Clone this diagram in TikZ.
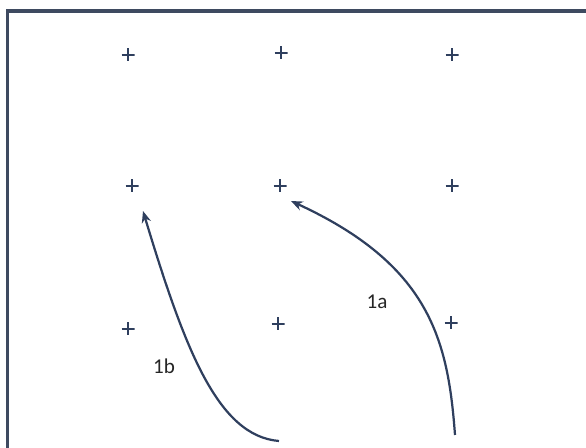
\documentclass[tikz,border=0pt]{standalone}
\usepackage{fontspec}
\setmainfont{Carlito}
\usetikzlibrary{arrows.meta}
\definecolor{framecol}{HTML}{3E4A60}
\definecolor{inkcol}{HTML}{2F3F5E}
\begin{document}
\begin{tikzpicture}[
    x=0.3mm, y=-0.3mm,
    plusmark/.style={inner sep=0pt, minimum size=13*0.3mm,
      path picture={\draw[inkcol, line width=2.4pt]
        (path picture bounding box.north) -- (path picture bounding box.south)
        (path picture bounding box.west) -- (path picture bounding box.east);}},
    move/.style={inkcol, line width=1.9pt, -{Stealth[length=10pt, width=8pt]}},
    lbl/.style={font=\fontsize{18}{20}\selectfont, text=black!85},
  ]
    \useasboundingbox (0,0) rectangle (586,448);
    % frame (open at right and bottom)
    \draw[framecol, line width=2.6pt] (7.5,450) -- (7.5,11) -- (588,11);
    % 3x3 grid of points
    \foreach \n/\px/\py in {
      11/128/55, 12/281/53, 13/452/55,
      21/132/186, 22/280/186, 23/452/186,
      31/128/329, 32/278/324, 33/451/323}
    { \node[plusmark] (p\n) at (\px,\py) {}; }
    % moves
    \coordinate (s1b) at (279,441);
    \coordinate (e1b) at (143,211);
    \coordinate (s1a) at (455,435);
    \coordinate (e1a) at (291,201);
    \draw[move] (s1b) .. controls (218,436) and (185,350) .. (e1b);
    \draw[move] (s1a) .. controls (448,340) and (430,265) .. (e1a);
    \node[lbl] (l1b) at (164,366) {1b};
    \node[lbl] (l1a) at (377,302) {1a};
  \end{tikzpicture}
\end{document}
